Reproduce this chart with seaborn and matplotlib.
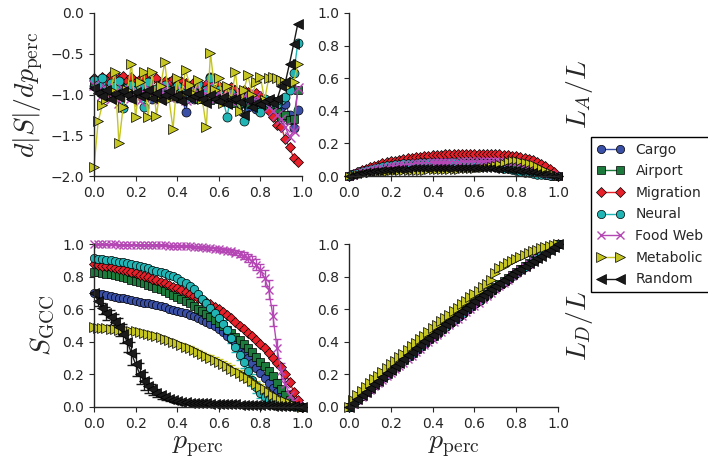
import numpy as np
import matplotlib
matplotlib.use('Agg')
import matplotlib.pyplot as plt
from matplotlib.ticker import FuncFormatter
import seaborn as sns

# fraction of removed nodes (x grid of the simulation)
p = np.round(np.arange(51) * 0.02, 2)
p_ds = p[:50]

networks = ['Cargo', 'Airport', 'Migration', 'Neural', 'Food Web', 'Metabolic', 'Random']

# d|S|/dp (top left)
cargo_ds = [-0.90, -0.95, -0.88, -0.97, -0.92, -1.00, -0.94, -0.98, -0.90, -1.03,
            -0.96, -0.92, -1.01, -0.97, -1.05, -0.93, -0.99, -1.02, -0.95, -1.00,
            -1.04, -0.97, -1.21, -1.00, -1.06, -0.95, -1.02, -1.08, -0.78, -1.03,
            -0.99, -1.07, -1.02, -1.10, -1.04, -1.12, -1.06, -1.15, -1.10, -1.18,
            -1.12, -1.08, -1.15, -1.10, -1.20, -1.15, -1.12, -1.25, -1.41, -1.19]
airport_ds = [-0.85, -0.88, -0.92, -0.86, -0.95, -0.90, -0.93, -0.97, -0.91, -0.96,
              -0.99, -0.94, -0.98, -1.01, -0.95, -1.00, -0.97, -1.03, -0.98, -1.01,
              -0.96, -1.04, -1.00, -1.02, -0.98, -1.05, -1.01, -1.03, -1.07, -1.02,
              -1.05, -1.08, -1.03, -1.06, -1.10, -1.05, -1.08, -1.12, -1.07, -1.10,
              -1.14, -1.10, -1.13, -1.18, -1.22, -1.27, -1.25, -1.31, -1.30, -0.95]
migration_ds = [-0.80, -0.85, -0.78, -0.82, -0.76, -0.84, -0.80, -0.77, -0.83, -0.79,
                -0.85, -0.81, -0.78, -0.86, -0.82, -0.80, -0.87, -0.83, -0.85, -0.81,
                -0.88, -0.84, -0.86, -0.90, -0.85, -0.88, -0.92, -0.87, -0.90, -0.94,
                -0.89, -0.93, -0.96, -0.91, -0.95, -0.98, -0.94, -0.97, -1.00, -0.98,
                -1.02, -1.05, -1.20, -1.28, -1.38, -1.40, -1.55, -1.65, -1.78, -1.83]
neural_ds = [-0.82, -0.88, -0.80, -0.93, -0.86, -0.90, -0.84, -1.17, -0.92, -0.88,
             -0.95, -0.90, -1.15, -0.85, -0.98, -0.93, -1.00, -0.88, -0.96, -1.02,
             -0.90, -0.97, -1.05, -0.93, -1.00, -0.87, -1.04, -0.95, -0.80, -1.00,
             -0.95, -1.06, -1.27, -0.98, -1.04, -1.10, -1.33, -1.02, -1.08, -1.12,
             -1.21, -1.05, -1.10, -1.08, -1.12, -1.07, -1.03, -0.95, -0.74, -0.37]
foodweb_ds = [-0.88, -0.95, -1.00, -0.92, -1.05, -0.97, -1.10, -0.93, -1.00, -1.04,
              -0.96, -1.08, -0.98, -0.92, -1.02, -0.95, -1.06, -0.90, -1.03, -0.97,
              -1.01, -0.94, -1.07, -0.99, -0.93, -1.04, -0.96, -1.00, -0.88, -1.05,
              -0.97, -1.02, -0.95, -1.08, -1.00, -0.97, -1.04, -0.99, -1.06, -1.02,
              -1.10, -1.08, -1.15, -1.20, -1.25, -1.30, -1.40, -1.52, -1.45, -0.92]
metabolic_ds = [-1.89, -1.33, -1.13, -1.05, -0.95, -0.72, -1.60, -1.15, -0.95, -0.62,
                -1.28, -0.85, -0.72, -1.28, -0.72, -1.26, -0.90, -0.60, -1.05, -1.42,
                -0.80, -1.00, -0.70, -0.88, -0.99, -0.82, -1.05, -1.40, -0.49, -0.95,
                -0.80, -1.10, -0.90, -1.05, -0.72, -1.20, -0.95, -0.76, -1.00, -0.85,
                -0.78, -1.07, -0.80, -0.79, -0.80, -0.82, -0.85, -0.88, -0.85, -0.63]
random_ds = [-0.92, -0.98, -1.02, -0.95, -1.05, -0.99, -1.03, -0.96, -1.01, -1.06,
             -0.97, -1.02, -1.00, -0.94, -1.04, -0.98, -1.07, -1.01, -0.96, -1.03,
             -1.00, -1.08, -0.97, -1.04, -1.02, -0.99, -1.06, -1.10, -1.01, -1.05,
             -1.08, -1.03, -1.12, -1.06, -1.06, -1.09, -1.25, -1.07, -1.15, -1.10,
             -1.12, -1.08, -1.05, -1.10, -1.06, -0.90, -0.85, -0.62, -0.38, -0.13]

# L_A / L (top right)
cargo_la = [0, .009, .018, .026, .033, .040, .046, .051, .056, .060,
            .064, .067, .070, .073, .075, .077, .079, .080, .081, .082,
            .083, .083, .083, .083, .083, .082, .081, .080, .079, .077,
            .075, .073, .070, .067, .064, .060, .056, .052, .047, .043,
            .038, .033, .029, .024, .020, .016, .012, .008, .005, .002, 0]
airport_la = [0, .010, .020, .029, .037, .045, .052, .058, .063, .068,
              .072, .076, .079, .082, .085, .087, .089, .091, .092, .093,
              .094, .095, .095, .095, .095, .095, .094, .093, .092, .090,
              .088, .086, .083, .080, .077, .073, .069, .064, .059, .054,
              .048, .043, .037, .031, .026, .021, .016, .011, .007, .003, 0]
migration_la = [0, .012, .024, .035, .045, .054, .062, .070, .077, .083,
                .089, .094, .099, .104, .108, .112, .115, .118, .121, .124,
                .126, .128, .130, .132, .133, .135, .136, .137, .137, .138,
                .138, .138, .137, .136, .135, .134, .132, .130, .127, .124,
                .121, .117, .112, .106, .098, .088, .075, .060, .043, .024, 0]
neural_la = [0, .010, .020, .029, .037, .044, .050, .056, .061, .065,
             .069, .072, .075, .077, .079, .081, .082, .083, .084, .084,
             .085, .085, .085, .084, .084, .083, .082, .080, .078, .076,
             .074, .071, .068, .064, .060, .056, .051, .046, .040, .035,
             .030, .025, .020, .016, .012, .009, .006, .004, .002, .001, 0]
foodweb_la = [0, .008, .016, .023, .030, .036, .042, .047, .052, .056,
              .060, .064, .067, .070, .073, .075, .077, .079, .081, .082,
              .083, .084, .085, .086, .087, .088, .088, .089, .089, .090,
              .090, .090, .090, .090, .090, .089, .089, .088, .087, .085,
              .083, .080, .075, .068, .058, .045, .032, .020, .010, .004, 0]
metabolic_la = [0, .006, .011, .015, .018, .021, .023, .025, .026, .027,
                .028, .029, .030, .031, .031, .032, .032, .033, .033, .034,
                .034, .035, .035, .036, .037, .038, .039, .040, .042, .044,
                .046, .049, .052, .056, .061, .067, .074, .082, .090, .096,
                .098, .094, .088, .080, .071, .061, .050, .038, .025, .012, 0]
random_la = [0, .007, .013, .018, .022, .026, .029, .032, .035, .037,
             .039, .041, .043, .044, .046, .047, .048, .049, .050, .050,
             .051, .051, .052, .052, .052, .052, .052, .052, .052, .051,
             .051, .050, .049, .048, .047, .046, .044, .042, .040, .038,
             .035, .032, .029, .026, .022, .018, .014, .010, .007, .003, 0]

# S_GCC (bottom left)
cargo_s = [.700, .696, .691, .686, .681, .676, .671, .666, .661, .656,
           .651, .646, .641, .635, .629, .623, .617, .611, .604, .597,
           .590, .582, .574, .565, .556, .546, .535, .523, .510, .495,
           .478, .459, .438, .415, .390, .363, .334, .303, .271, .239,
           .207, .176, .146, .118, .092, .068, .047, .030, .017, .007, 0]
airport_s = [.830, .826, .822, .818, .813, .808, .802, .796, .789, .782,
             .775, .767, .759, .750, .741, .731, .721, .710, .699, .687,
             .672, .660, .648, .635, .620, .604, .588, .571, .553, .534,
             .514, .494, .473, .452, .431, .410, .385, .362, .335, .306,
             .278, .250, .222, .190, .150, .110, .075, .046, .025, .010, 0]
migration_s = [.875, .871, .867, .862, .857, .852, .846, .840, .834, .827,
               .820, .812, .804, .796, .787, .778, .769, .759, .749, .738,
               .727, .716, .705, .694, .683, .671, .658, .645, .631, .616,
               .600, .582, .563, .543, .522, .500, .478, .457, .435, .413,
               .389, .362, .330, .300, .272, .243, .205, .155, .095, .045, 0]
neural_s = [.912, .910, .907, .904, .900, .896, .892, .887, .882, .876,
            .870, .864, .857, .850, .843, .836, .828, .820, .811, .801,
            .790, .776, .761, .744, .722, .695, .665, .638, .610, .578,
            .545, .510, .470, .422, .368, .320, .275, .220, .165, .120,
            .085, .060, .045, .034, .025, .018, .012, .008, .005, .002, 0]
foodweb_s = [.998, .998, .998, .997, .997, .997, .996, .996, .996, .995,
             .995, .995, .994, .994, .993, .993, .992, .991, .990, .989,
             .988, .987, .986, .985, .983, .981, .979, .977, .974, .971,
             .968, .964, .960, .954, .947, .939, .929, .915, .897, .873,
             .840, .790, .720, .560, .360, .220, .140, .075, .035, .012, 0]
metabolic_s = [.490, .487, .485, .482, .480, .477, .475, .472, .470, .467,
               .464, .460, .455, .450, .444, .437, .429, .420, .411, .400,
               .390, .380, .370, .360, .348, .336, .324, .312, .300, .288,
               .275, .262, .249, .235, .221, .207, .192, .176, .160, .143,
               .125, .108, .091, .075, .060, .046, .034, .023, .013, .006, 0]
random_s = [.700, .650, .605, .575, .550, .522, .490, .450, .400, .330,
            .262, .205, .160, .130, .108, .088, .072, .060, .050, .042,
            .036, .032, .029, .027, .025, .024, .023, .022, .021, .020,
            .019, .018, .018, .017, .016, .015, .015, .014, .013, .012,
            .012, .011, .010, .009, .008, .007, .006, .005, .004, .002, 0]

# error bars on S_GCC
neural_err = [.004, .004, .004, .004, .004, .004, .004, .004, .004, .004,
              .004, .004, .005, .005, .005, .005, .006, .006, .006, .007,
              .007, .008, .008, .009, .010, .011, .012, .013, .015, .017,
              .019, .021, .024, .027, .030, .032, .034, .035, .035, .034,
              .032, .029, .026, .022, .018, .014, .010, .007, .005, .003, 0]
foodweb_err = [.004, .004, .004, .004, .004, .004, .004, .004, .004, .004,
               .004, .004, .004, .004, .004, .004, .005, .005, .005, .005,
               .005, .005, .006, .006, .006, .007, .007, .008, .008, .009,
               .010, .011, .012, .014, .016, .019, .022, .026, .030, .035,
               .040, .050, .060, .065, .060, .050, .040, .030, .020, .010, 0]
metabolic_err = [.004, .004, .004, .004, .004, .004, .005, .005, .005, .005,
                 .006, .006, .006, .007, .007, .008, .008, .009, .009, .010,
                 .010, .011, .012, .012, .013, .014, .014, .015, .016, .017,
                 .018, .018, .019, .020, .020, .020, .020, .020, .019, .018,
                 .017, .016, .014, .012, .010, .008, .006, .005, .003, .002, 0]
random_err = [.020, .030, .035, .040, .045, .050, .055, .060, .065, .070,
              .070, .065, .055, .045, .035, .025, .020, .015, .012, .010,
              .008, .007, .006, .006, .005, .005, .005, .004, .004, .004,
              .004, .004, .003, .003, .003, .003, .003, .003, .003, .003,
              .003, .002, .002, .002, .002, .002, .002, .002, .001, .001, 0]

# L_D / L (bottom right)
cargo_ld = [0, .023, .046, .068, .091, .113, .135, .157, .179, .201,
            .222, .244, .265, .287, .308, .329, .350, .371, .392, .412,
            .433, .453, .474, .494, .514, .534, .554, .574, .594, .614,
            .634, .653, .673, .692, .712, .731, .750, .769, .788, .807,
            .825, .844, .862, .880, .898, .915, .933, .950, .967, .984, 1.0]
airport_ld = [0, .024, .047, .070, .093, .115, .137, .159, .181, .203,
              .225, .247, .268, .290, .311, .332, .353, .374, .395, .416,
              .437, .457, .478, .498, .518, .539, .559, .579, .599, .618,
              .638, .657, .677, .696, .715, .734, .753, .772, .791, .809,
              .828, .846, .864, .882, .899, .917, .934, .951, .968, .984, 1.0]
migration_ld = [0, .022, .045, .067, .089, .111, .133, .154, .176, .198,
                .219, .241, .262, .283, .304, .325, .346, .367, .388, .408,
                .429, .449, .470, .490, .510, .530, .550, .570, .590, .609,
                .629, .648, .668, .687, .706, .725, .744, .763, .782, .801,
                .819, .838, .856, .874, .893, .911, .929, .947, .965, .982, 1.0]
neural_ld = [0, .022, .045, .067, .090, .112, .134, .156, .178, .199,
             .221, .243, .264, .285, .307, .328, .349, .370, .390, .411,
             .432, .452, .473, .493, .513, .533, .553, .573, .593, .613,
             .633, .652, .672, .691, .710, .729, .749, .768, .786, .805,
             .824, .842, .860, .878, .896, .914, .931, .948, .966, .983, 1.0]
foodweb_ld = [0, .021, .042, .063, .084, .105, .126, .147, .168, .189,
              .210, .231, .252, .273, .294, .315, .336, .357, .378, .399,
              .420, .441, .461, .481, .501, .521, .541, .561, .581, .601,
              .621, .641, .661, .681, .701, .721, .741, .761, .781, .801,
              .820, .839, .858, .877, .896, .915, .934, .953, .971, .986, 1.0]
metabolic_ld = [0, .045, .072, .097, .121, .145, .169, .192, .215, .238,
                .261, .284, .306, .328, .350, .372, .394, .416, .438, .460,
                .482, .504, .525, .546, .567, .588, .609, .630, .651, .672,
                .693, .714, .735, .756, .777, .820, .850, .866, .881, .895,
                .909, .922, .934, .945, .955, .964, .973, .981, .988, .994, 1.0]
random_ld = [0, .025, .048, .071, .094, .117, .140, .162, .185, .207,
             .229, .251, .273, .295, .317, .338, .360, .381, .402, .423,
             .444, .465, .486, .507, .528, .548, .568, .588, .608, .628,
             .648, .667, .686, .705, .724, .743, .761, .779, .797, .815,
             .832, .848, .865, .881, .897, .913, .929, .946, .963, .981, 1.0]

ds = dict(zip(networks, [cargo_ds, airport_ds, migration_ds, neural_ds, foodweb_ds, metabolic_ds, random_ds]))
la = dict(zip(networks, [cargo_la, airport_la, migration_la, neural_la, foodweb_la, metabolic_la, random_la]))
sgcc = dict(zip(networks, [cargo_s, airport_s, migration_s, neural_s, foodweb_s, metabolic_s, random_s]))
ld = dict(zip(networks, [cargo_ld, airport_ld, migration_ld, neural_ld, foodweb_ld, metabolic_ld, random_ld]))
errs = {'Neural': neural_err, 'Food Web': foodweb_err, 'Metabolic': metabolic_err, 'Random': random_err}

colors = {'Cargo': '#3a4fa6', 'Airport': '#1c7a3c', 'Migration': '#e8202a', 'Neural': '#20b4b4',
          'Food Web': '#b547b5', 'Metabolic': '#c4c423', 'Random': '#1a1a1a'}
markers = {'Cargo': 'o', 'Airport': 's', 'Migration': 'D', 'Neural': 'o',
           'Food Web': 'x', 'Metabolic': '>', 'Random': '<'}
msize = {'o': 1.0, 's': 0.95, 'D': 0.85, 'x': 1.0, '>': 1.1, '<': 1.1}

sns.set_style('ticks')
plt.rcParams.update({'mathtext.fontset': 'cm', 'font.size': 10,
                     'xtick.labelsize': 10, 'ytick.labelsize': 10,
                     'xtick.color': '#262626', 'ytick.color': '#262626',
                     'axes.edgecolor': '#262626', 'xtick.major.size': 3.5,
                     'ytick.major.size': 3.5, 'axes.linewidth': 1.0})

fig = plt.figure(figsize=(7.08, 4.62), dpi=100)
W, H = 708, 462
ax_ds = fig.add_axes([94 / W, 1 - 176 / H, 208 / W, 163 / H])
ax_la = fig.add_axes([349 / W, 1 - 176 / H, 209 / W, 163 / H])
ax_s = fig.add_axes([94 / W, 1 - 407 / H, 208 / W, 163 / H])
ax_ld = fig.add_axes([349 / W, 1 - 407 / H, 209 / W, 163 / H])


def draw(ax, x, data, ms):
    handles = []
    for name in networks:
        c = colors[name]
        m = markers[name]
        mec = c if m == 'x' else 'black'
        sns.lineplot(x=x, y=data[name], ax=ax, color=c, marker=m, ms=ms * msize[m],
                     mec=mec, mew=1.0 if m == 'x' else 0.5, lw=1.0, clip_on=False,
                     errorbar=None, legend=False, label=name)
        handles.append(ax.lines[-1])
    return handles


draw(ax_ds, p_ds, ds, 6.5)
draw(ax_la, p, la, 5.5)
for name in networks:
    if name in errs:
        ax_s.errorbar(p, sgcc[name], yerr=errs[name], fmt='none', ecolor=colors[name],
                      elinewidth=1, capsize=3, zorder=1)
handles = draw(ax_s, p, sgcc, 6)
draw(ax_ld, p, ld, 6)

fmt = FuncFormatter(lambda v, pos: f'{v:.1f}'.replace('-', '\u2212'))
for ax in [ax_ds, ax_la, ax_s, ax_ld]:
    ax.set_xlim(0, 1)
    ax.set_xticks([0, 0.2, 0.4, 0.6, 0.8, 1.0])
    ax.xaxis.set_major_formatter(fmt)
    ax.yaxis.set_major_formatter(fmt)
    ax.set_xlabel('')
    sns.despine(ax=ax)

ax_ds.set_ylim(-2, 0)
ax_ds.set_yticks([-2.0, -1.5, -1.0, -0.5, 0.0])
for ax in [ax_la, ax_s, ax_ld]:
    ax.set_ylim(0, 1)
    ax.set_yticks([0, 0.2, 0.4, 0.6, 0.8, 1.0])

ax_ds.set_ylabel(r'$d|S|/dp_{\rm perc}$', fontsize=20, labelpad=4)
ax_s.set_ylabel(r'$S_{\rm GCC}$', fontsize=20, labelpad=4)
ax_s.set_xlabel(r'$p_{\rm perc}$', fontsize=20, labelpad=0)
ax_ld.set_xlabel(r'$p_{\rm perc}$', fontsize=20, labelpad=0)
for ax, lab in [(ax_la, r'$L_A/L$'), (ax_ld, r'$L_D/L$')]:
    ax.yaxis.set_label_position('right')
    ax.set_ylabel(lab, fontsize=20, labelpad=4)

fig.legend(handles, networks, loc='upper left', bbox_to_anchor=(591 / W, 1 - 137 / H),
           frameon=True, fancybox=False, edgecolor='black', framealpha=1,
           numpoints=2, fontsize=10, borderaxespad=0, handlelength=2.0,
           labelspacing=0.55)

fig.savefig('out.png', dpi=100)
